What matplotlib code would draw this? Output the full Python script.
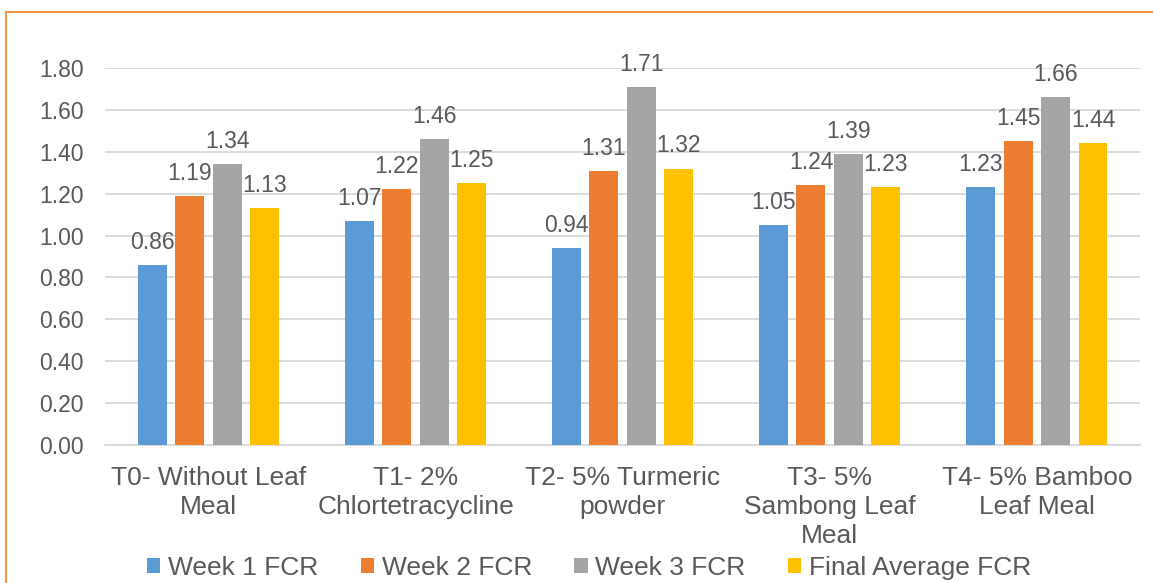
import numpy as np
import matplotlib
matplotlib.use("Agg")
import matplotlib.pyplot as plt
from matplotlib.patches import Patch
from matplotlib.lines import Line2D

plt.rcParams["font.family"] = ["Liberation Sans", "DejaVu Sans"]

categories = ["T0- Without Leaf\nMeal", "T1- 2%\nChlortetracycline",
              "T2- 5% Turmeric\npowder", "T3- 5%\nSambong Leaf\nMeal",
              "T4- 5% Bamboo\nLeaf Meal"]
series_names = ["Week 1 FCR", "Week 2 FCR", "Week 3 FCR", "Final Average FCR"]
week1 = [0.86, 1.07, 0.94, 1.05, 1.23]
week2 = [1.19, 1.22, 1.31, 1.24, 1.45]
week3 = [1.34, 1.46, 1.71, 1.39, 1.66]
final_avg = [1.13, 1.25, 1.32, 1.23, 1.44]
yticks = [0.0, 0.2, 0.4, 0.6, 0.8, 1.0, 1.2, 1.4, 1.6, 1.8]

colors = ["#5B9BD5", "#ED7D31", "#A5A5A5", "#FFC000"]
txt = "#595959"

fig = plt.figure(figsize=(11.53, 5.83), dpi=100)
ax = fig.add_axes([0.091, 0.2367, 0.898, 0.6467])

x = np.arange(len(categories))
w, step = 0.14, 0.181
for i, vals in enumerate([week1, week2, week3, final_avg]):
    pos = x + (i - 1.5) * step
    bars = ax.bar(pos, vals, width=w, color=colors[i], zorder=3)
    for b, v in zip(bars, vals):
        ax.annotate(f"{v:.2f}", (b.get_x() + b.get_width() / 2, v),
                    xytext=(0, 8), textcoords="offset points",
                    ha="center", va="bottom", fontsize=16.5, color=txt, zorder=4)

ax.set_xlim(-0.5, len(categories) - 0.5)
ax.set_ylim(0, 1.8)
ax.set_yticks(yticks)
ax.set_yticklabels([f"{t:.2f}" for t in yticks])
ax.set_xticks(x)
ax.set_xticklabels(categories, linespacing=1.27, fontsize=19)
ax.tick_params(axis="both", length=0, labelcolor=txt)
ax.tick_params(axis="y", pad=15, labelsize=16.5)
ax.tick_params(axis="x", pad=15)
ax.grid(axis="y", color="#D9D9D9", lw=1.3, zorder=0)
for s in ["top", "right", "left"]:
    ax.spines[s].set_visible(False)
ax.spines["bottom"].set_color("#D9D9D9")
ax.spines["bottom"].set_linewidth(1.3)

handles = [Patch(facecolor=c, edgecolor="none") for c in colors]
fig.legend(handles, series_names, loc="center", bbox_to_anchor=(0.511, 0.026),
           ncol=4, frameon=False, fontsize=19, labelcolor=txt,
           handlelength=0.5, handleheight=0.5, handletextpad=0.3,
           columnspacing=1.6, borderpad=0)

# chart-area frame (top and left edges)
fig.add_artist(Line2D([0.0055, 1.0], [0.979, 0.979], transform=fig.transFigure,
                      color="#F79646", lw=1.5))
fig.add_artist(Line2D([0.0055, 0.0055], [0.0, 0.979], transform=fig.transFigure,
                      color="#F79646", lw=1.5))

fig.savefig("out.png", dpi=100)
